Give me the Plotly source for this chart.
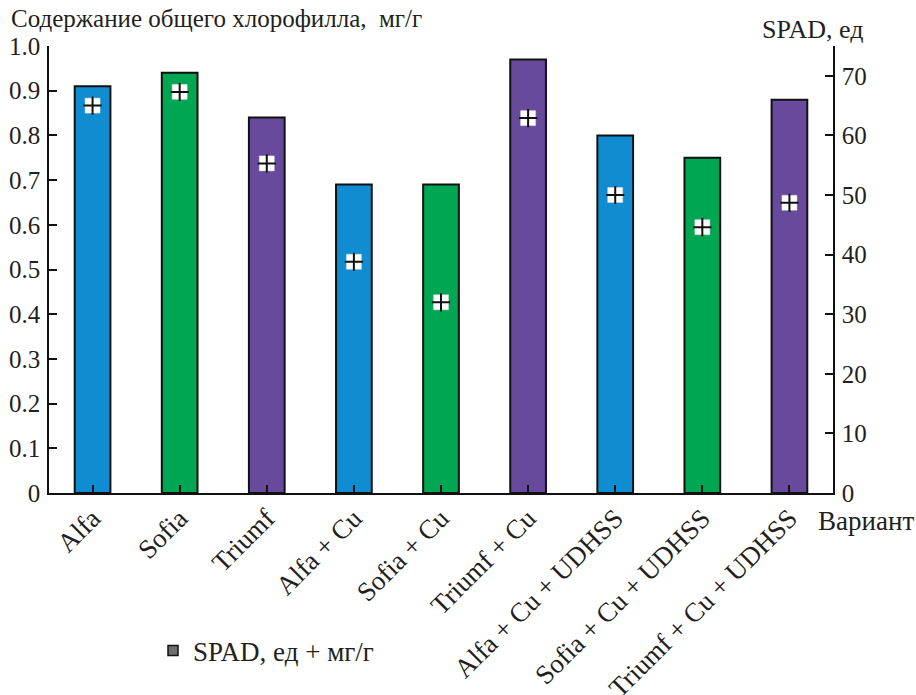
import plotly.graph_objects as go

# Варианты опыта
variants = ["Alfa", "Sofia", "Triumf", "Alfa + Cu", "Sofia + Cu", "Triumf + Cu",
            "Alfa + Cu + UDHSS", "Sofia + Cu + UDHSS", "Triumf + Cu + UDHSS"]
# Содержание общего хлорофилла, мг/г
chlorophyll = [0.91, 0.94, 0.84, 0.69, 0.69, 0.97, 0.80, 0.75, 0.88]
# Показания SPAD, ед
spad = [65.0, 67.3, 55.3, 38.8, 32.0, 62.9, 50.0, 44.6, 48.7]

bar_colors = ["#0f8dd0", "#00a651", "#684a9d"] * 3

left_tickvals = [0, 0.1, 0.2, 0.3, 0.4, 0.5, 0.6, 0.7, 0.8, 0.9, 1.0]
left_ticktext = ["0", "0.1", "0.2", "0.3", "0.4", "0.5", "0.6", "0.7", "0.8", "0.9", "1.0"]
right_tickvals = [0, 10, 20, 30, 40, 50, 60, 70]

FONT = "Liberation Serif, Times New Roman, serif"
INK = "#231f20"

W, H = 916, 695
L, R, T, B = 49, 83, 46, 202
pw, ph = W - L - R, H - T - B


def px(x):
    return (x - L) / pw


def py(y):
    return (H - B - y) / ph


fig = go.Figure()

fig.add_trace(go.Bar(
    x=variants, y=chlorophyll, width=0.41,
    marker=dict(color=bar_colors, line=dict(color="#111111", width=2)),
    showlegend=False,
))

# SPAD: white square with a black cross, on the right axis
fig.add_trace(go.Scatter(
    x=variants, y=spad, yaxis="y2", mode="markers",
    marker=dict(symbol="square", size=15, color="white",
                line=dict(color="#dddddd", width=0.5)),
    showlegend=False,
))
fig.add_trace(go.Scatter(
    x=variants, y=spad, yaxis="y2", mode="markers",
    marker=dict(symbol="cross-thin", size=13, color="#111111",
                line=dict(color="#111111", width=2)),
    showlegend=False,
))
# legend entry
fig.add_trace(go.Scatter(
    x=[None], y=[None], yaxis="y2", mode="markers",
    name="SPAD, ед + мг/г",
    marker=dict(symbol="square", size=10, color="#6d6e70",
                line=dict(color="#111111", width=1.5)),
))

num_font = dict(family=FONT, size=25, color=INK)
cat_font = dict(family=FONT, size=27, color=INK)
label_font = dict(family=FONT, size=27, color=INK)

fig.update_layout(
    width=W, height=H,
    margin=dict(l=L, r=R, t=T, b=B, autoexpand=False),
    paper_bgcolor="white", plot_bgcolor="white",
    font=num_font,
    xaxis=dict(
        type="category", showline=True, linecolor="#111111", linewidth=1.5,
        ticks="inside", ticklen=8, tickcolor="#111111", tickwidth=1.5,
        tickangle=-45, tickfont=cat_font, showgrid=False, zeroline=False,
        range=[-0.5, 8.5], ticklabelstandoff=-3,
    ),
    yaxis=dict(
        range=[0, 1.0], tickvals=left_tickvals, ticktext=left_ticktext,
        showline=True, linecolor="#111111", linewidth=1.5,
        ticks="inside", ticklen=8, tickcolor="#111111", tickwidth=1.5,
        tickfont=num_font, showgrid=False, zeroline=False,
        ticklabelstandoff=2,
    ),
    yaxis2=dict(
        range=[0, 75], tickvals=right_tickvals, overlaying="y", side="right",
        anchor="x",
        showline=True, linecolor="#111111", linewidth=1.5,
        ticks="inside", ticklen=8, tickcolor="#111111", tickwidth=1.5,
        tickfont=num_font, showgrid=False, zeroline=False,
        ticklabelstandoff=2,
    ),
    showlegend=True,
    legend=dict(
        x=px(153), y=py(651), xanchor="left", yanchor="middle",
        font=label_font, bgcolor="rgba(0,0,0,0)", itemwidth=30,
    ),
    annotations=[
        dict(text="Содержание общего хлорофилла,  мг/г", xref="paper", yref="paper",
             x=px(9), y=py(19), xanchor="left", yanchor="middle",
             showarrow=False, font=dict(family=FONT, size=25, color=INK)),
        dict(text="SPAD, ед", xref="paper", yref="paper",
             x=px(866), y=py(30), xanchor="right", yanchor="middle",
             showarrow=False, font=dict(family=FONT, size=26, color=INK)),
        dict(text="Вариант", xref="paper", yref="paper",
             x=px(816), y=py(521), xanchor="left", yanchor="middle",
             showarrow=False, font=label_font),
    ],
)

fig.write_html("out.html")
